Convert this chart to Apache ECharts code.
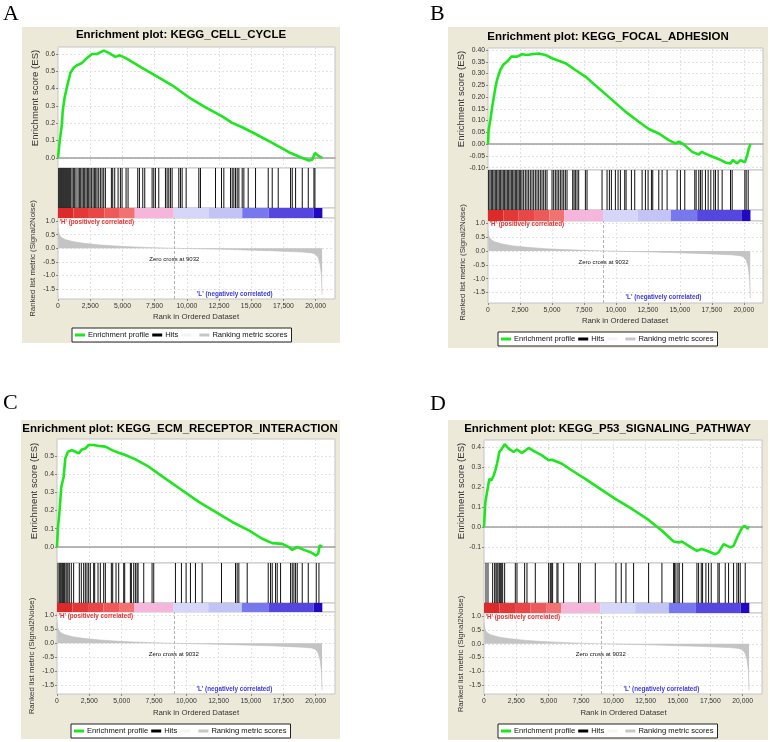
<!DOCTYPE html>
<html><head><meta charset="utf-8">
<script src="https://cdn.jsdelivr.net/npm/echarts@6/dist/echarts.min.js"></script>
<style>html,body{margin:0;padding:0;background:#fff}#chart{width:770px;height:742px}</style>
</head><body><div id="chart"></div>
<script>
// ---------------- DATA ----------------
const panelLetters = ['A', 'B', 'C', 'D'];
const panelTitles = [
  'Enrichment plot: KEGG_CELL_CYCLE',
  'Enrichment plot: KEGG_FOCAL_ADHESION',
  'Enrichment plot: KEGG_ECM_RECEPTOR_INTERACTION',
  'Enrichment plot: KEGG_P53_SIGNALING_PATHWAY'
];
const legendNames = ['Enrichment profile', 'Hits', '\u00a0', 'Ranking metric scores'];
const esAxisName = 'Enrichment score (ES)';
const metricAxisName = 'Ranked list metric (Signal2Noise)';
const rankAxisName = 'Rank in Ordered Dataset';
const posLabel = "'H' (positively correlated)";
const negLabel = "'L' (negatively correlated)";
const zeroCross = 9032;

const rankTicks = [0, 2500, 5000, 7500, 10000, 12500, 15000, 17500, 20000];
const metricTicks = [-1.5, -1.0, -0.5, 0.0, 0.5, 1.0];
const esTicksA = [0, 0.1, 0.2, 0.3, 0.4, 0.5, 0.6];
const esTicksB = [-0.10, -0.05, 0, 0.05, 0.10, 0.15, 0.20, 0.25, 0.30, 0.35, 0.40];
const esTicksC = [0, 0.1, 0.2, 0.3, 0.4, 0.5];
const esTicksD = [-0.1, 0, 0.1, 0.2, 0.3, 0.4];

const esA = [[0,0],[52,0.0],[130,0.096],[311,0.2],[363,0.27],[518,0.35],[700,0.41],[958,0.49],[1217,0.52],[1476,0.535],[1865,0.548],[2253,0.577],[2642,0.6],[3030,0.6],[3548,0.619],[3937,0.606],[4455,0.583],[4792,0.592],[5232,0.577],[6527,0.519],[7563,0.475],[8858,0.419],[10153,0.35],[11448,0.292],[12743,0.24],[13520,0.202],[14297,0.177],[15333,0.138],[16628,0.087],[17923,0.033],[18959,0.0],[19477,-0.015],[19736,-0.01],[19943,0.029],[20254,0.01],[20513,0.0]];
const esB = [[0,0],[50,0.06],[180,0.102],[310,0.152],[440,0.194],[570,0.237],[700,0.272],[960,0.315],[1222,0.339],[1484,0.35],[1823,0.372],[2266,0.372],[2658,0.382],[3050,0.379],[3440,0.382],[3962,0.385],[4483,0.379],[5005,0.365],[6049,0.344],[6831,0.315],[7614,0.287],[8657,0.237],[9700,0.188],[10743,0.138],[11787,0.095],[12570,0.064],[13352,0.045],[14135,0.017],[14657,0.003],[14918,0.01],[15309,-0.001],[15961,-0.033],[16483,-0.044],[16691,-0.033],[17265,-0.047],[18048,-0.064],[18569,-0.078],[18961,-0.082],[19144,-0.068],[19483,-0.082],[19744,-0.068],[20083,-0.078],[20266,-0.047],[20396,-0.018],[20527,0.001]];
const esC = [[0,0],[75,0.107],[178,0.182],[333,0.329],[514,0.384],[643,0.486],[849,0.522],[1159,0.531],[1417,0.522],[1675,0.513],[1933,0.535],[2191,0.54],[2449,0.559],[2836,0.559],[3224,0.554],[3740,0.55],[4256,0.531],[4772,0.517],[5288,0.504],[6063,0.48],[7095,0.44],[8386,0.375],[9676,0.311],[10967,0.247],[12257,0.192],[13548,0.137],[14838,0.091],[15871,0.045],[16645,0.021],[17420,0.017],[17936,-0.001],[18194,-0.016],[18581,-0.001],[19097,-0.016],[19613,-0.029],[20052,-0.047],[20207,-0.034],[20310,0.008],[20516,0.002]];
const esD = [[0,0],[52,-0.001],[103,0.125],[232,0.116],[412,0.242],[567,0.234],[747,0.259],[876,0.284],[1005,0.318],[1185,0.377],[1391,0.394],[1597,0.416],[1907,0.394],[2294,0.377],[2551,0.389],[2938,0.372],[3453,0.397],[3969,0.377],[4485,0.36],[5000,0.335],[5257,0.338],[6031,0.318],[6804,0.284],[7835,0.242],[8866,0.197],[10155,0.142],[11443,0.091],[12732,0.036],[13763,-0.018],[14665,-0.072],[15052,-0.077],[15309,-0.072],[15825,-0.094],[16469,-0.119],[16856,-0.11],[17371,-0.122],[17887,-0.136],[18145,-0.127],[18532,-0.085],[19047,-0.102],[19305,-0.094],[19640,-0.043],[19949,-0.005],[20155,0.007],[20336,-0.005],[20516,-0.005]];

const hitsA = [52,130,207,285,363,440,518,596,673,751,829,906,984,1088,1191,1295,1399,1554,1658,1761,1865,1968,2072,2176,2279,2383,2486,2590,2720,2823,2927,3030,3160,3289,3419,3548,3678,4144,4248,4403,4662,4843,4973,5284,5439,6190,6320,6579,6734,7304,7433,7563,7822,8340,8469,8599,8728,8858,9376,9505,9635,9946,10930,11059,12225,12691,12872,13390,13520,13649,13779,13908,14038,14297,14426,14763,15333,16317,16628,17094,18052,18182,18441,18959,19425,19865,19943];
const hitsB = [50,154,258,363,467,571,676,780,884,989,1093,1197,1302,1406,1510,1615,1719,1823,1928,2032,2136,2241,2345,2449,2554,2658,2788,2919,3049,3179,3310,3440,3571,3701,3831,3962,4092,4223,4353,4483,4614,5005,5135,5266,5396,5527,5657,5787,5918,6048,6179,6622,6726,6831,6961,7091,7613,7743,8917,9308,9491,9647,9960,10169,10351,10690,10795,11212,11473,12047,12307,12516,12777,12881,13351,13611,14003,14785,15046,15385,16167,16272,16480,16611,16741,17002,17211,17420,17654,17784,17993,18306,18958,19088,20080,20184,20341];
const hitsC = [75,178,255,333,436,513,591,694,771,849,952,1107,1288,1726,1881,2062,2191,2320,2449,2578,2836,2914,3172,3352,3610,3740,4204,4307,4565,4772,5159,5237,5675,5753,5933,6062,6191,6269,6708,7353,7482,9160,9624,9986,10321,10708,11224,12721,13805,13934,14064,14709,16335,16515,16645,16903,17032,17290,18064,18193,18322,18451,18580,18967,19432,20051,20258];
const hitsD = [154,309,670,824,927,1005,1082,1185,1262,1340,1443,1597,2422,2551,3144,3324,3968,5000,5128,5205,5308,5643,5721,6159,7318,7447,8607,10205,10617,10978,11570,12730,13761,14663,14740,14843,14998,15100,15358,16467,16596,16802,16905,17162,17369,17575,18090,18193,18657,18915,19301,19559,19688,19817,20203];

const rankedMetric = [[0,0.75],[30,0.6],[100,0.5],[250,0.4],[500,0.33],[700,0.3],[1200,0.24],[2000,0.18],[3300,0.12],[4500,0.08],[5900,0.05],[7500,0.02],[9032,0],[11000,-0.02],[13000,-0.04],[15000,-0.07],[16500,-0.09],[18000,-0.12],[19000,-0.14],[19700,-0.17],[20000,-0.22],[20200,-0.35],[20350,-0.6],[20450,-1.0],[20500,-1.7]];

const colorBandEdges = [0, 1200, 2400, 3600, 4800, 5957, 8987, 11700, 14300, 16350, 19850, 20520];

// ---------------- STYLE / LAYOUT ----------------
const bandColors = ['#dc2a2a','#e33838','#e94747','#ee5a5a','#f27272','#f6b6dc','#d6d6fa','#c3c3f6','#7777ee','#5646e0','#2208c2'];
const X_MAX = 21500;
const FONT = 'Liberation Sans, Arial, Helvetica, sans-serif';
const GREEN = '#1ee61e';
const esTickSets = [esTicksA, esTicksB, esTicksC, esTicksD];
const esSets = [esA, esB, esC, esD];
const hitSets = [hitsA, hitsB, hitsC, hitsD];

const layouts = [
  {bg:[22,27,318,316], left:58, width:277, es:[47,121], hits:[168,40], bar:[208,10], rank:[218,81], esRange:[-0.058,0.64], rankRange:[-1.86,1.11], esDigits:1, title:[181,34.5], letter:[3,14], esName:[35,98], rankName:[33,258.5], xName:[196,317], legend:[72,328]},
  {bg:[448,27,320,321], left:488, width:275, es:[48,122], hits:[170,40], bar:[210,11], rank:[221,82], esRange:[-0.11,0.4085], rankRange:[-1.88,1.08], esDigits:2, title:[608,36.5], letter:[430,14], esName:[461,99], rankName:[463,262.5], xName:[625,321], legend:[498,332]},
  {bg:[21,420,319,319], left:57, width:278, es:[439,124], hits:[563,40], bar:[603,9], rank:[612,82], esRange:[-0.088,0.592], rankRange:[-1.83,1.13], esDigits:1, title:[180,429], letter:[3,403], esName:[34,491], rankName:[32,656], xName:[196,712.7], legend:[71,724]},
  {bg:[448,420,320,320], left:484, width:278, es:[440,123], hits:[563,40], bar:[603,10], rank:[613,81], esRange:[-0.18,0.437], rankRange:[-1.83,1.12], esDigits:1, title:[607.5,429], letter:[430,404], esName:[461,491], rankName:[461,654], xName:[623.5,712.7], legend:[498,724]}
];

const fmtComma = v => String(Math.round(v)).replace(/\B(?=(\d{3})+(?!\d))/g, ',');
const splitStyle = {show: true, lineStyle: {color: '#e2e2e2', type: [2, 2], width: 1}};
const tickLabel = {fontSize: 6.8, color: '#333', fontFamily: FONT};

const grids = [], xAxes = [], yAxes = [], series = [], legends = [], graphics = [];

layouts.forEach((L, p) => {
  const rows = [L.es, L.hits, L.bar, L.rank];
  rows.forEach(r => grids.push({
    left: L.left, top: r[0], width: L.width, height: r[1],
    show: true, backgroundColor: '#fff', borderColor: '#c4c4c4', borderWidth: 1,
    containLabel: false, outerBoundsMode: 'none'
  }));
  const g = 4 * p;
  xAxes.push({type: 'value', gridIndex: g, min: 0, max: X_MAX,
    axisLine: {show: true, onZero: true, lineStyle: {color: '#a0a0a0', width: 1.5}},
    axisTick: {show: false, customValues: rankTicks}, axisLabel: {show: false, customValues: rankTicks},
    splitLine: splitStyle});
  yAxes.push({type: 'value', gridIndex: g, min: L.esRange[0], max: L.esRange[1],
    axisLine: {show: false}, axisTick: {show: true, length: 2, customValues: esTickSets[p], lineStyle: {color: '#888'}},
    axisLabel: Object.assign({customValues: esTickSets[p], margin: 3, formatter: v => v.toFixed(L.esDigits)}, tickLabel),
    splitLine: splitStyle});
  xAxes.push({type: 'value', gridIndex: g + 1, min: 0, max: X_MAX, show: false});
  yAxes.push({type: 'value', gridIndex: g + 1, min: 0, max: 1, show: false});
  xAxes.push({type: 'value', gridIndex: g + 2, min: 0, max: X_MAX, show: false});
  yAxes.push({type: 'value', gridIndex: g + 2, min: 0, max: 1, show: false});
  xAxes.push({type: 'value', gridIndex: g + 3, min: 0, max: X_MAX,
    axisLine: {show: false, onZero: false},
    axisTick: {show: true, length: 2, customValues: rankTicks, lineStyle: {color: '#888'}},
    axisLabel: Object.assign({customValues: rankTicks, margin: 4, formatter: fmtComma}, tickLabel),
    splitLine: splitStyle});
  yAxes.push({type: 'value', gridIndex: g + 3, min: L.rankRange[0], max: L.rankRange[1],
    axisLine: {show: false}, axisTick: {show: true, length: 2, customValues: metricTicks, lineStyle: {color: '#888'}},
    axisLabel: Object.assign({customValues: metricTicks, margin: 3, formatter: v => v.toFixed(1)}, tickLabel),
    splitLine: splitStyle});

  series.push({
    type: 'line', name: legendNames[0], xAxisIndex: g, yAxisIndex: g, data: esSets[p],
    showSymbol: false, z: 5, itemStyle: {color: GREEN}, lineStyle: {color: GREEN, width: 2.6}
  });
  series.push({
    type: 'custom', name: legendNames[1], xAxisIndex: g + 1, yAxisIndex: g + 1,
    data: hitSets[p].map(r => [r]), encode: {x: 0}, itemStyle: {color: '#000'},
    renderItem: (params, api) => {
      const a = api.coord([api.value(0), 0]);
      const b = api.coord([api.value(0), 1]);
      return {type: 'line', shape: {x1: a[0], y1: a[1], x2: b[0], y2: b[1]}, style: {stroke: '#111', lineWidth: 1}};
    }
  });
  series.push({
    type: 'custom', xAxisIndex: g + 2, yAxisIndex: g + 2,
    data: colorBandEdges.slice(0, -1).map((s, i) => [s, colorBandEdges[i + 1], i]), encode: {x: [0, 1]},
    renderItem: (params, api) => {
      const a = api.coord([api.value(0), 1]);
      const b = api.coord([api.value(1), 0]);
      return {type: 'rect', shape: {x: a[0], y: a[1], width: b[0] - a[0], height: b[1] - a[1]}, style: {fill: bandColors[api.value(2)]}};
    }
  });
  series.push({
    type: 'line', name: legendNames[3], xAxisIndex: g + 3, yAxisIndex: g + 3, data: rankedMetric,
    showSymbol: false, itemStyle: {color: '#c6c6c6'}, lineStyle: {color: '#bdbdbd', width: 0.6},
    areaStyle: {color: '#c4c4c4', opacity: 1},
    markLine: {silent: true, symbol: ['none', 'none'], label: {show: false},
      lineStyle: {color: '#b4b4b4', type: [3, 2], width: 1}, data: [{xAxis: zeroCross}]},
    markPoint: {silent: true, symbol: 'circle', symbolSize: 0, data: [
      {coord: [zeroCross, -0.4], label: {show: true, position: 'inside', formatter: 'Zero cross at ' + zeroCross, fontSize: 6, color: '#111', fontFamily: FONT}},
      {coord: [30, 0.96], label: {show: true, position: 'right', distance: 1, formatter: posLabel, fontSize: 6.3, fontWeight: 'bold', color: '#e53030', fontFamily: FONT}},
      {coord: [13720, -1.67], label: {show: true, position: 'inside', formatter: negLabel, fontSize: 6.3, fontWeight: 'bold', color: '#3a3ae0', fontFamily: FONT}}
    ]}
  });

  legends.push({
    left: L.legend[0], top: L.legend[1], orient: 'horizontal', selectedMode: false,
    backgroundColor: '#fff', borderColor: '#222', borderWidth: 1, borderRadius: 0,
    padding: [3, 4, 3, 3], itemGap: 3, itemWidth: 10, itemHeight: 3,
    textStyle: {fontSize: 7.6, color: '#111', fontFamily: FONT, padding: [0, 0, 0, -2]},
    data: legendNames.map(n => ({name: n, icon: 'rect'}))
  });

  graphics.push({type: 'rect', z: -10, shape: {x: L.bg[0], y: L.bg[1], width: L.bg[2], height: L.bg[3]}, style: {fill: '#ece9d8'}});
  graphics.push({type: 'text', z: 10, x: L.title[0], y: L.title[1], style: {text: panelTitles[p], fontSize: 11.5, fontWeight: 'bold', fontFamily: FONT, fill: '#000', align: 'center', verticalAlign: 'middle'}});
  graphics.push({type: 'text', z: 10, x: L.letter[0], y: L.letter[1], style: {text: panelLetters[p], fontSize: 22, fontFamily: 'Liberation Serif, Times New Roman, serif', fill: '#000', align: 'left', verticalAlign: 'middle'}});
  graphics.push({type: 'text', z: 10, x: L.esName[0], y: L.esName[1], rotation: Math.PI / 2, style: {text: esAxisName, fontSize: 9.6, fontFamily: FONT, fill: '#333', align: 'center', verticalAlign: 'middle'}});
  graphics.push({type: 'text', z: 10, x: L.rankName[0], y: L.rankName[1], rotation: Math.PI / 2, style: {text: metricAxisName, fontSize: 7.9, fontFamily: FONT, fill: '#333', align: 'center', verticalAlign: 'middle'}});
  graphics.push({type: 'text', z: 10, x: L.xName[0], y: L.xName[1], style: {text: rankAxisName, fontSize: 7.8, fontFamily: FONT, fill: '#333', align: 'center', verticalAlign: 'middle'}});
});

series.push({type: 'line', name: legendNames[2], xAxisIndex: 0, yAxisIndex: 0, data: [], itemStyle: {color: '#f4f4f4'}, lineStyle: {color: '#f4f4f4'}});

const chart = echarts.init(document.getElementById('chart'), null, {renderer: 'canvas'});
chart.setOption({
  animation: false,
  backgroundColor: '#fff',
  textStyle: {fontFamily: FONT},
  grid: grids, xAxis: xAxes, yAxis: yAxes,
  legend: legends, series: series,
  graphic: {elements: graphics}
});
</script></body></html>
